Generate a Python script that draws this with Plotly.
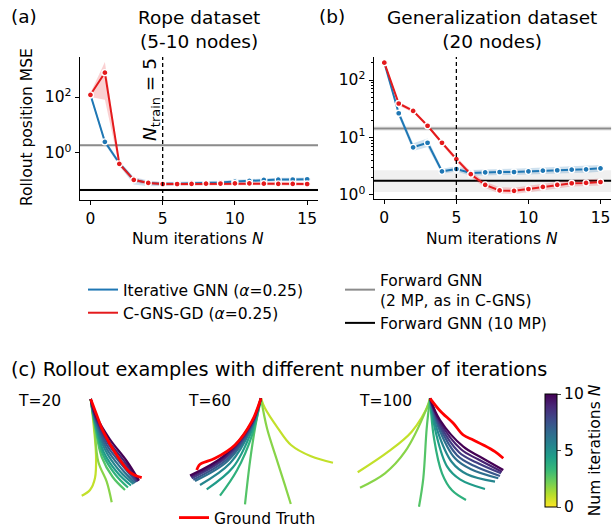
import plotly.graph_objects as go
from plotly.colors import sample_colorscale

W, H = 616, 527
def px(x): return x / W
def py(y): return 1 - y / H

FONT = "DejaVu Sans"
FS = 15.5      # label / tick / legend size
FT = 18.5      # title size
BLUE = "#1f77b4"
RED = "#e41a1c"
GRAY = "#8c8c8c"

# ---------------- data: panel (a) Rope dataset ----------------
iters = list(range(16))
a_iter_mean = [120, 2.5, 0.43, 0.11, 0.085, 0.079, 0.080, 0.081, 0.083, 0.088, 0.095, 0.100, 0.109, 0.112, 0.113, 0.115]
a_iter_lo   = [100, 2.0, 0.36, 0.075, 0.065, 0.068, 0.069, 0.070, 0.072, 0.076, 0.082, 0.086, 0.094, 0.097, 0.098, 0.100]
a_iter_hi   = [140, 3.1, 0.52, 0.14, 0.105, 0.092, 0.093, 0.094, 0.096, 0.102, 0.110, 0.116, 0.126, 0.130, 0.131, 0.133]
a_cgns_mean = [120, 740, 0.41, 0.11, 0.085, 0.078, 0.078, 0.079, 0.080, 0.081, 0.082, 0.082, 0.080, 0.079, 0.079, 0.078]
a_cgns_lo   = [100, 80, 0.33, 0.09, 0.074, 0.068, 0.068, 0.069, 0.070, 0.071, 0.072, 0.072, 0.070, 0.069, 0.069, 0.068]
a_cgns_hi   = [140, 1800, 0.50, 0.13, 0.098, 0.090, 0.090, 0.091, 0.092, 0.093, 0.094, 0.094, 0.092, 0.091, 0.091, 0.090]
a_fwd2 = 1.9
a_fwd2_band = (1.75, 2.05)
a_fwd10 = 0.048
a_fwd10_band = (0.043, 0.054)

# ---------------- data: panel (b) Generalization dataset ----------------
b_iter_mean = [200, 26.4, 6.75, 8.1, 2.58, 2.83, 2.41, 2.48, 2.51, 2.51, 2.58, 2.65, 2.69, 2.76, 2.79, 2.91]
b_iter_lo   = [185, 23.0, 5.8, 6.8, 2.35, 2.55, 2.15, 2.2, 2.22, 2.22, 2.28, 2.33, 2.36, 2.42, 2.44, 2.54]
b_iter_hi   = [215, 30.0, 7.9, 9.6, 2.85, 3.15, 2.72, 2.8, 2.84, 2.85, 2.93, 3.02, 3.06, 3.15, 3.19, 3.33]
b_cgns_mean = [200, 39, 29, 16, 8.1, 4.2, 2.3, 1.5, 1.2, 1.18, 1.27, 1.38, 1.5, 1.6, 1.62, 1.68]
b_cgns_lo   = [188, 36, 27, 15, 7.5, 3.8, 2.05, 1.32, 1.06, 1.04, 1.12, 1.22, 1.32, 1.41, 1.43, 1.46]
b_cgns_hi   = [212, 42, 31, 17, 8.7, 4.6, 2.55, 1.7, 1.36, 1.34, 1.44, 1.56, 1.7, 1.82, 1.85, 1.93]
b_fwd2 = 14.4
b_fwd2_band = (13.0, 16.0)
b_fwd10 = 1.77
b_fwd10_band = (1.13, 2.7)
n_train = 5

# ---------------- data: panel (c) rollouts (dx, depth from anchor), index = N ----------------
t20_x = [[0, 2.6, 5.3, 4.3, -0.7, -9], [0, 3.5, 7.6, 16, 21], [0, 4, 11, 22, 34.3], [0, 4, 12, 25, 37.3],
         [0, 4.5, 13, 27, 40.3], [0, 4.5, 14, 29, 42.8], [0, 5, 15, 31, 44.3], [0, 5, 16, 33, 45.8],
         [0, 5, 17, 34, 46.8], [0, 5, 18, 35, 47.8], [0, 5.5, 19, 36, 48.3]]
t20_d = [[0, 22.7, 56, 79, 91, 96.7], [0, 25, 62.7, 82.7, 103.3], [0, 25, 58, 78, 91], [0, 24, 55, 76, 88.5],
         [0, 23, 53, 74, 86.5], [0, 22, 50, 72, 85], [0, 21, 48, 70, 84], [0, 20, 46, 68, 83],
         [0, 19, 44, 66, 82.5], [0, 18, 42, 64, 82], [0, 17, 40, 62, 81.5]]
t20_gt_x = [0, 6, 12.6, 26, 39.3, 51]
t20_gt_d = [0, 16, 32.7, 56, 73.3, 78.7]

t60_x = [[0, 4, 17, 30, 50, 72], [0, 6, 16, 24, 29.8], [0, -6, -11, -16], [0, -9, -24, -41],
         [0, -9.5, -28, -54.3], [0, -10, -31, -61], [0, -10, -33, -66], [0, -10, -34, -67.7],
         [0, -10, -35, -69.3], [0, -10, -36, -70.2], [0, -10, -37, -71]]
t60_d = [[0, 10, 30, 46.7, 58, 64.4], [0, 30, 62, 87, 105.7], [0, 30, 63, 106], [0, 37, 72, 97.4],
         [0, 33, 69, 91], [0, 31, 65, 86.7], [0, 29.5, 62.5, 82.7], [0, 28.5, 61, 81.4],
         [0, 27.5, 59.5, 80], [0, 26.5, 58.5, 78.5], [0, 25.5, 57.5, 77.2]]
t60_gt_x = [0, -9.3, -26, -46, -59.3, -62, -64.3]
t60_gt_d = [0, 23.4, 46.7, 60, 65, 67, 71.7]

t100_x = [[0, -1.7, -18.3, -41.7, -72.3], [0, -3.3, -25, -45, -70], [0, -3.3, -6.7, -11], [0, 4, 12, 22, 36],
          [0, 6, 17, 30, 55], [0, 7, 22, 37, 65], [0, 8, 25, 41, 68.3], [0, 8.5, 27, 44, 70],
          [0, 9, 29, 46, 71], [0, 9.5, 31, 48, 72], [0, 10, 33.3, 50, 73.3]]
t100_d = [[0, 6.7, 33.4, 53.4, 74], [0, 10, 53.4, 75, 89.4], [0, 30, 80, 108.4], [0, 40, 75, 92, 101.7],
          [0, 35, 68, 81, 90.7], [0, 31, 64, 76, 83.4], [0, 28, 60, 71, 80], [0, 26, 57, 67.5, 77.7],
          [0, 24.5, 54, 64, 75], [0, 23, 51, 61, 73.4], [0, 21.7, 48.4, 58.4, 71.7]]
t100_gt_x = [0, 10, 23.3, 33.3, 43.3, 53.3, 65, 73.3]
t100_gt_d = [0, 12.4, 25, 36.7, 41.7, 46.7, 53.4, 60]

n_max = 10
# ------------------------------------------------------------------

fig = go.Figure()

def add_band(xa, ya, lo, hi, color):
    fig.add_trace(go.Scatter(x=iters, y=lo, mode="lines", line=dict(width=0), showlegend=False,
                             hoverinfo="skip", xaxis=xa, yaxis=ya))
    fig.add_trace(go.Scatter(x=iters, y=hi, mode="lines", line=dict(width=0), fill="tonexty",
                             fillcolor=color, showlegend=False, hoverinfo="skip", xaxis=xa, yaxis=ya))

def add_hline(xa, ya, val, band, color, name, show, legend):
    xr = [-0.75, 15.75]
    fig.add_trace(go.Scatter(x=xr, y=[band[0]] * 2, mode="lines", line=dict(width=0), showlegend=False,
                             hoverinfo="skip", xaxis=xa, yaxis=ya))
    fig.add_trace(go.Scatter(x=xr, y=[band[1]] * 2, mode="lines", line=dict(width=0), fill="tonexty",
                             fillcolor="rgba(0,0,0,0.06)", showlegend=False, hoverinfo="skip", xaxis=xa, yaxis=ya))
    fig.add_trace(go.Scatter(x=xr, y=[val] * 2, mode="lines", line=dict(color=color, width=2),
                             name=name, showlegend=show, legend=legend, xaxis=xa, yaxis=ya))

def add_series(xa, ya, mean, color, name, show):
    fig.add_trace(go.Scatter(x=iters, y=mean, mode="lines", line=dict(color=color, width=2),
                             name=name, showlegend=show, legend="legend", xaxis=xa, yaxis=ya))
    fig.add_trace(go.Scatter(x=iters, y=mean, mode="markers",
                             marker=dict(color=color, size=6, line=dict(color="white", width=1.3)),
                             showlegend=False, xaxis=xa, yaxis=ya))

for (xa, ya, im, ilo, ihi, cm, clo, chi, f2, f2b, f10, f10b, show) in [
    ("x", "y", a_iter_mean, a_iter_lo, a_iter_hi, a_cgns_mean, a_cgns_lo, a_cgns_hi, a_fwd2, a_fwd2_band, a_fwd10, a_fwd10_band, True),
    ("x2", "y2", b_iter_mean, b_iter_lo, b_iter_hi, b_cgns_mean, b_cgns_lo, b_cgns_hi, b_fwd2, b_fwd2_band, b_fwd10, b_fwd10_band, False),
]:
    add_hline(xa, ya, f2, f2b, GRAY, "Forward GNN<br>(2 MP, as in C-GNS)", show, "legend2")
    add_hline(xa, ya, f10, f10b, "black", "Forward GNN (10 MP)", show, "legend2")
    add_band(xa, ya, ilo, ihi, "rgba(31,119,180,0.22)")
    add_band(xa, ya, clo, chi, "rgba(228,26,28,0.2)")
    add_series(xa, ya, im, BLUE, "Iterative GNN (<i>α</i>=0.25)", show)
    add_series(xa, ya, cm, RED, "C-GNS-GD (<i>α</i>=0.25)", show)

# trajectories
panels = [("x3", "y3", t20_x, t20_d, t20_gt_x, t20_gt_d),
          ("x4", "y4", t60_x, t60_d, t60_gt_x, t60_gt_d),
          ("x5", "y5", t100_x, t100_d, t100_gt_x, t100_gt_d)]
for pi, (xa, ya, cx, cd, gx, gd) in enumerate(panels):
    for n in range(len(cx)):
        col = sample_colorscale("Viridis", [1 - (n + 1) / (n_max + 1)])[0]
        fig.add_trace(go.Scatter(x=cx[n], y=[-v for v in cd[n]], mode="lines",
                                 line=dict(color=col, width=2.2, shape="spline", smoothing=1.0),
                                 showlegend=False, hoverinfo="skip", xaxis=xa, yaxis=ya))
    fig.add_trace(go.Scatter(x=gx, y=[-v for v in gd], mode="lines",
                             line=dict(color="red", width=2.8, shape="spline", smoothing=1.0),
                             name="Ground Truth", showlegend=(pi == 0), legend="legend3",
                             xaxis=xa, yaxis=ya))

# colorbar
fig.add_trace(go.Scatter(x=[None], y=[None], mode="markers", xaxis="x3", yaxis="y3", showlegend=False,
                         marker=dict(color=[0], cmin=0, cmax=n_max, colorscale="Viridis", reversescale=True,
                                     showscale=True,
                                     colorbar=dict(x=px(545), xanchor="left", xpad=0, y=py(450.5), yanchor="middle",
                                                   ypad=0, len=113 / H, lenmode="fraction", thickness=12,
                                                   outlinewidth=1, outlinecolor="black",
                                                   tickvals=[0, 5, 10], ticks="outside", ticklen=4,
                                                   tickfont=dict(size=FS, color="black", family=FONT),
                                                   title=dict(text="Num iterations <i>N</i>", side="right",
                                                              font=dict(size=FS, color="black", family=FONT))))))

axis_common = dict(showline=True, linecolor="black", linewidth=1, ticks="outside", ticklen=4,
                   tickcolor="black", showgrid=False, zeroline=False,
                   tickfont=dict(size=FS, color="black", family=FONT))

fig.update_layout(
    width=W, height=H, margin=dict(l=0, r=0, t=0, b=0, autoexpand=False),
    paper_bgcolor="white", plot_bgcolor="white",
    font=dict(family=FONT, size=FS, color="black"),
    xaxis=dict(domain=[px(79.6), px(318)], range=[-0.75, 15.75], tickvals=[0, 5, 10, 15], anchor="y", **axis_common),
    yaxis=dict(domain=[py(200), py(57)], type="log", range=[-1.68, 3.43], tickvals=[1, 100],
               ticktext=["10<sup>0</sup>", "10<sup>2</sup>"], anchor="x", **axis_common),
    xaxis2=dict(domain=[px(373.5), px(611.3)], range=[-0.75, 15.75], tickvals=[0, 5, 10, 15], anchor="y2", **axis_common),
    yaxis2=dict(domain=[py(199), py(57)], type="log", range=[-0.07, 2.40], tickvals=[1, 10, 100],
                ticktext=["10<sup>0</sup>", "10<sup>1</sup>", "10<sup>2</sup>"], anchor="x2",
                minor=dict(ticks="outside", ticklen=2, tickcolor="black", tickmode="array",
                           tickvals=[2, 3, 4, 5, 6, 7, 8, 9, 20, 30, 40, 50, 60, 70, 80, 90, 200]),
                **axis_common),
    xaxis3=dict(domain=[px(55), px(165)], range=[-35.7, 74.3], visible=False, anchor="y3"),
    yaxis3=dict(domain=[py(512), py(392)], range=[-113, 7], visible=False, anchor="x3"),
    xaxis4=dict(domain=[px(170), px(345)], range=[-91, 84], visible=False, anchor="y4"),
    yaxis4=dict(domain=[py(512), py(392)], range=[-113.7, 6.3], visible=False, anchor="x4"),
    xaxis5=dict(domain=[px(350), px(515)], range=[-80, 85], visible=False, anchor="y5"),
    yaxis5=dict(domain=[py(512), py(392)], range=[-113.7, 6.3], visible=False, anchor="x5"),
    legend=dict(x=px(83), y=py(273), xanchor="left", yanchor="top", bgcolor="rgba(0,0,0,0)",
                traceorder="normal", font=dict(size=FS, family=FONT), itemwidth=30),
    legend2=dict(x=px(340), y=py(263), xanchor="left", yanchor="top", bgcolor="rgba(0,0,0,0)",
                 traceorder="normal", font=dict(size=FS, family=FONT), itemwidth=30),
    legend3=dict(x=px(174), y=py(501), xanchor="left", yanchor="top", bgcolor="rgba(0,0,0,0)",
                 font=dict(size=FS, family=FONT), itemwidth=30),
)

# vertical dashed lines at N_train
for xa, ya in [("x", "y"), ("x2", "y2")]:
    fig.add_shape(type="line", xref=xa, yref=ya + " domain", x0=n_train, x1=n_train, y0=0, y1=1,
                  line=dict(color="black", width=1.3, dash="4px,3px"))

ann = [
    dict(text="(a)", x=px(9), y=py(17), xanchor="left", size=FT),
    dict(text="Rope dataset<br>(5-10 nodes)", x=px(199), y=py(30), xanchor="center", size=FT),
    dict(text="(b)", x=px(317), y=py(17), xanchor="left", size=FT),
    dict(text="Generalization dataset<br>(20 nodes)", x=px(491.7), y=py(30), xanchor="center", size=FT),
    dict(text="Num iterations <i>N</i>", x=px(198), y=py(239), xanchor="center", size=FS),
    dict(text="Num iterations <i>N</i>", x=px(492), y=py(239), xanchor="center", size=FS),
    dict(text="(c) Rollout examples with different number of iterations", x=px(9), y=py(370), xanchor="left", size=19.3),
    dict(text="T=20", x=px(16), y=py(401), xanchor="left", size=FS),
    dict(text="T=60", x=px(186), y=py(401), xanchor="left", size=FS),
    dict(text="T=100", x=px(357), y=py(401), xanchor="left", size=FS),
]
for a in ann:
    fig.add_annotation(text=a["text"], x=a["x"], y=a["y"], xref="paper", yref="paper", xanchor=a["xanchor"],
                       yanchor="middle", showarrow=False, font=dict(size=a["size"], family=FONT, color="black"))
fig.add_annotation(text="Rollout position MSE", x=px(27), y=py(127), xref="paper", yref="paper", textangle=-90,
                   xanchor="center", yanchor="middle",
                   showarrow=False, font=dict(size=FS, family=FONT, color="black"))
fig.add_annotation(text="<i>N</i><sub>train</sub> = 5", x=px(151), y=py(100), xref="paper", yref="paper",
                   textangle=-90, xanchor="center", yanchor="middle",
                   showarrow=False, font=dict(size=FT, family=FONT, color="black"))

fig.write_html("out.html", config={"displayModeBar": False},
               post_script="document.body.style.margin='0';")
